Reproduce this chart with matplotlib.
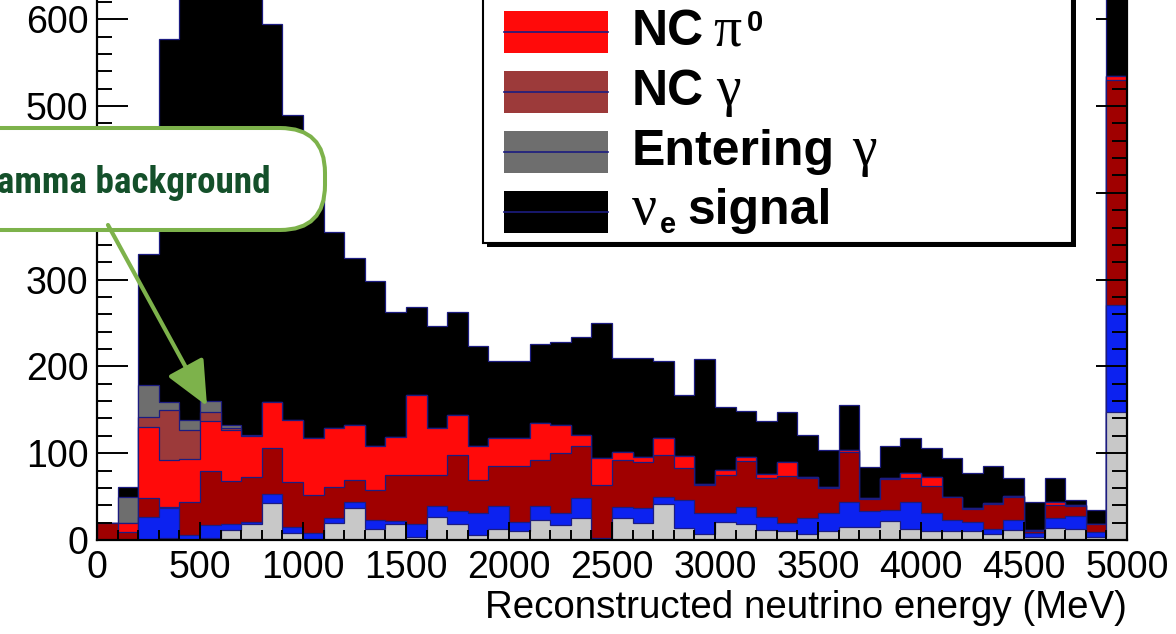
import os
import numpy as np
import matplotlib
matplotlib.use("Agg")
import matplotlib.pyplot as plt
from matplotlib import font_manager as fm
from matplotlib.patches import FancyBboxPatch, Rectangle
from matplotlib.ticker import MultipleLocator

plt.rcParams["font.family"] = ["Liberation Sans", "DejaVu Sans"]

# 100 MeV bins from 0 to 5 GeV
bin_edges = np.arange(0, 5001, 100)

# events per bin, listed bottom of the stack to top
light_grey = [0, 0, 0, 2, 0, 2, 12, 19, 43, 8,
              0, 20, 37, 13, 19, 4, 27, 19, 6, 13,
              10, 23, 17, 25, 0, 25, 20, 42, 14, 7,
              21, 18, 11, 10, 7, 10, 15, 15, 22, 13,
              10, 10, 10, 7, 11, 4, 14, 13, 3, 148]
blue_bkg = [0, 0, 27, 35, 6, 15, 7, 2, 10, 7,
            8, 5, 7, 10, 3, 15, 12, 14, 25, 26,
            11, 16, 14, 23, 2, 13, 17, 8, 32, 24,
            10, 20, 15, 10, 18, 21, 29, 18, 13, 31,
            21, 13, 11, 6, 12, 4, 11, 15, 6, 123]
dark_red = [20, 9, 21, 1, 38, 63, 49, 52, 53, 52,
            44, 36, 25, 35, 53, 56, 36, 65, 38, 46,
            64, 53, 69, 60, 61, 54, 53, 48, 37, 32,
            44, 53, 46, 54, 47, 29, 57, 14, 35, 28,
            31, 26, 15, 29, 27, 2, 15, 11, 9, 259]
nc_pi0 = [0, 11, 82, 54, 49, 57, 59, 47, 53, 71,
          65, 68, 63, 50, 44, 92, 54, 46, 39, 32,
          32, 43, 33, 13, 31, 9, 6, 19, 14, 1,
          6, 5, 4, 16, 1, 1, 3, 1, 1, 5,
          11, 1, 1, 1, 1, 2, 4, 1, 1, 5]
nc_gamma = [0, 0, 12, 58, 34, 10, 2, 0, 0, 0] + [0] * 40
entering_gamma = [0, 30, 37, 9, 11, 13, 3, 1, 0, 0] + [0] * 40
nue_signal = [0, 11, 151, 418, 507, 505, 528, 519, 436, 352,
              278, 226, 193, 190, 144, 101, 118, 119, 115, 89,
              89, 91, 95, 113, 156, 109, 114, 89, 70, 145,
              72, 53, 61, 58, 48, 43, 51, 36, 37, 40,
              33, 45, 40, 42, 21, 32, 28, 6, 16, 165]

layers = [light_grey, blue_bkg, dark_red, nc_pi0, nc_gamma, entering_gamma, nue_signal]
colours = ["#c8c8c8", "#0c22f0", "#a00000", "#ff0a0a", "#9c3a3a", "#6e6e6e", "#000000"]
outline = "#1c1c80"
legend_colours = colours[3:]


def narrow_bold():
    # tall condensed face for the callout, whichever one is on the system
    wanted = ["NotoSans-ExtraCondensedBold", "LiberationSansNarrow-Bold",
              "NotoSans-CondensedBold", "RobotoCondensed-Bold",
              "DejaVuSansCondensed-Bold", "NotoSans-SemiCondensedBold"]
    stems = {os.path.splitext(os.path.basename(f.fname))[0]: f.fname
             for f in fm.fontManager.ttflist}
    for name in wanted:
        if name in stems:
            return fm.FontProperties(fname=stems[name])
    return fm.FontProperties(family="Roboto", weight="bold")


W, H = 1176, 634
fig = plt.figure(figsize=(W / 100, H / 100), dpi=100)

# frame: x 0..5000 over px 97..1127, y 0 at px 540, ~0.868 px per event
ymax = 700
ax = fig.add_axes([97 / W, (H - 540) / H, 1030 / W, ymax * 0.868 / H])

tops = np.cumsum(np.array(layers, dtype=float), axis=0)
# THStack style: biggest cumulative histogram first, smaller ones painted over it
for top, col in reversed(list(zip(tops, colours))):
    ax.stairs(top, bin_edges, baseline=0, fill=True, facecolor=col,
              edgecolor=outline, linewidth=0.9)

ax.set_xlim(0, 5000)
ax.set_ylim(0, ymax)
ax.xaxis.set_major_locator(MultipleLocator(500))
ax.xaxis.set_minor_locator(MultipleLocator(100))
ax.yaxis.set_major_locator(MultipleLocator(100))
ax.yaxis.set_minor_locator(MultipleLocator(20))
ax.tick_params(which="both", direction="in", top=True, right=True, width=1.4,
               labelsize=27, color="black")
ax.tick_params(axis="y", which="major", length=22, pad=6)
ax.tick_params(axis="y", which="minor", length=11)
ax.tick_params(axis="x", which="major", length=13, pad=7)
ax.tick_params(axis="x", which="minor", length=7)
for sp in ax.spines.values():
    sp.set_linewidth(1.6)
ax.set_xlabel("Reconstructed neutrino energy (MeV)", fontsize=27.7, loc="right", labelpad=3)

# pixel-space overlay for the legend box and the callout
ov = fig.add_axes([0, 0, 1, 1])
ov.set_xlim(0, W)
ov.set_ylim(H, 0)
ov.axis("off")

ov.add_patch(Rectangle((487, -30), 589, 277, facecolor="black", edgecolor="none"))
ov.add_patch(Rectangle((483, -30), 589, 273, facecolor="white", edgecolor="black", linewidth=1.5))
for yc, col in zip([32, 92, 152, 212], legend_colours):
    ov.add_patch(Rectangle((504, yc - 21), 104, 42, facecolor=col, edgecolor="none"))
    ov.plot([504, 608], [yc, yc], color=outline, linewidth=1.2)

sans_b = dict(fontsize=36, fontweight="bold")
greek = dict(fontsize=40, family=["Liberation Serif", "DejaVu Serif"])
small_b = dict(fontsize=21, fontweight="bold")
legend_text = [
    (632, 45, "NC", sans_b), (713, 45, "π", greek), (747, 31, "0", small_b),
    (632, 105, "NC", sans_b), (716, 105, "γ", greek),
    (632, 165, "Entering", sans_b), (852, 165, "γ", greek),
    (632, 224, "ν", greek), (660, 233, "e", small_b), (687, 224, "signal", sans_b),
]
for x, y, s, style in legend_text:
    ov.text(x, y, s, va="baseline", ha="left", **style)

green = "#7db24b"
ov.annotate("", xy=(207, 406), xytext=(108, 225),
            arrowprops=dict(arrowstyle="-|>,head_length=1.1,head_width=0.5",
                            color=green, lw=3, mutation_scale=25,
                            shrinkA=0, shrinkB=0))
ov.add_patch(FancyBboxPatch((-120, 128), 445, 102,
                            boxstyle="round,pad=0,rounding_size=45",
                            facecolor="white", edgecolor=green, linewidth=2.9))
callout_font = narrow_bold()
callout_font.set_size(34)
callout = ov.text(271, 193, "Gamma background", ha="right", va="baseline",
                  color="#14502a", fontproperties=callout_font)

# the 400 label sits under the callout box
for lab in ax.get_yticklabels():
    if lab.get_text() == "400":
        lab.set_visible(False)

# fit the callout text to its width in the box
fig.canvas.draw()
width = callout.get_window_extent().width
callout_font.set_size(min(36, 34 * 296 / width))
callout.set_fontproperties(callout_font)

fig.savefig("out.png", dpi=100)
